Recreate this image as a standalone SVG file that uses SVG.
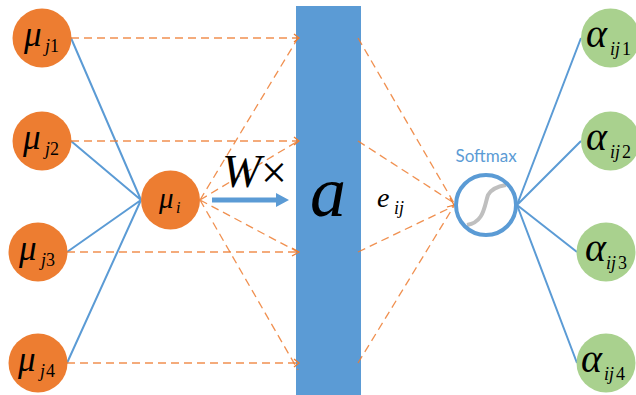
<svg xmlns="http://www.w3.org/2000/svg" width="636" height="395" viewBox="0 0 636 395">
<style>
.o{fill:#ed7d31}
.g{fill:#a9d18e}
.b{stroke:#5b9bd5;stroke-width:2;fill:none}
.d{stroke:#ed7d31;stroke-width:1.3;stroke-dasharray:8 5;fill:none;opacity:.85}
.h{stroke:#ed7d31;stroke-width:1.3;fill:none}
.m{font-family:"Liberation Serif",serif;font-style:italic;fill:#000}
.n{font-family:"Liberation Serif",serif;fill:#000}
</style>
<rect id="attention-bar" x="296" y="6" width="65" height="389" fill="#5b9bd5"/>
<g id="connectors">
<path class="b" d="M71 38L141 200M71 141L141 200M67 252L141 200M67 363L141 200"/>
<path class="b" d="M517 205L581 38M517 205L581 141M517 205L577 252M517 205L577 363"/>
<path class="d" d="M71 38H298M71 141H298M67 252H298M67 363H298"/>
<path class="d" d="M200 200L298 38M200 200L298 141M200 200L298 252M200 200L298 370"/>
<path class="d" d="M358 38L454 203M358 141L454 203M358 252L454 206M358 363L454 206"/>
<path class="h" d="M294 34L299 38L294 42M294 137L299 141L294 145M292 248L299 252L292 256M294 359L299 363L294 367M450 198L454 205L447 207"/>
<path d="M212 197.500H276V193L289 200L276 207V202.500H212Z" fill="#5b9bd5"/>
</g>
<g id="mu-j1"><circle class="o" cx="42" cy="38" r="29.500"/><text class="m" x="24" y="46" font-size="35">μ</text><text class="m" x="45" y="52" font-size="18">j</text><text class="n" x="50" y="52" font-size="18">1</text></g>
<g id="mu-j2"><circle class="o" cx="42" cy="141" r="29.500"/><text class="m" x="23" y="149" font-size="35">μ</text><text class="m" x="45" y="155" font-size="18">j</text><text class="n" x="50" y="155" font-size="18">2</text></g>
<g id="mu-j3"><circle class="o" cx="38" cy="252" r="29.500"/><text class="m" x="19" y="260" font-size="35">μ</text><text class="m" x="41" y="266" font-size="18">j</text><text class="n" x="46" y="266" font-size="18">3</text></g>
<g id="mu-j4"><circle class="o" cx="38" cy="363" r="29.500"/><text class="m" x="18" y="371" font-size="35">μ</text><text class="m" x="40" y="377" font-size="18">j</text><text class="n" x="46" y="377" font-size="18">4</text></g>
<g id="mu-i"><circle class="o" cx="170.500" cy="200" r="29.500"/><text class="m" x="159" y="208" font-size="29">μ</text><text class="m" x="176" y="213" font-size="16">i</text></g>
<g id="w-label"><text class="m" x="222" y="187" font-size="47">W</text><text class="n" x="261" y="188" font-size="46">×</text></g>
<g id="a-label"><text class="m" x="310" y="216" font-size="72">a</text></g>
<g id="e-label"><text class="m" x="377" y="207" font-size="28">e</text><text class="m" x="394" y="214" font-size="18">ij</text></g>
<g id="softmax">
<text x="455.500" y="162" font-family="Lato,sans-serif" font-size="17" fill="#5b9bd5">Softmax</text>
<path d="M467 225C484 222 484 207 488 195C492 188 499 186 506 185" fill="none" stroke="#bfbfbf" stroke-width="4"/>
<circle cx="486" cy="205" r="30" fill="none" stroke="#5b9bd5" stroke-width="4"/>
</g>
<g id="alpha-1"><circle class="g" cx="610.500" cy="38" r="29.500"/><text class="m" x="586" y="47" font-size="40">α</text><text class="m" x="610" y="55" font-size="18">ij</text><text class="n" x="622" y="55" font-size="18">1</text></g>
<g id="alpha-2"><circle class="g" cx="610.500" cy="141" r="29.500"/><text class="m" x="586" y="150" font-size="40">α</text><text class="m" x="610" y="158" font-size="18">ij</text><text class="n" x="622" y="158" font-size="18">2</text></g>
<g id="alpha-3"><circle class="g" cx="606" cy="252" r="29.500"/><text class="m" x="585" y="261" font-size="40">α</text><text class="m" x="606" y="269" font-size="18">ij</text><text class="n" x="618" y="269" font-size="18">3</text></g>
<g id="alpha-4"><circle class="g" cx="606" cy="363" r="29.500"/><text class="m" x="581" y="372" font-size="40">α</text><text class="m" x="604" y="380" font-size="18">ij</text><text class="n" x="616" y="380" font-size="18">4</text></g>
</svg>
